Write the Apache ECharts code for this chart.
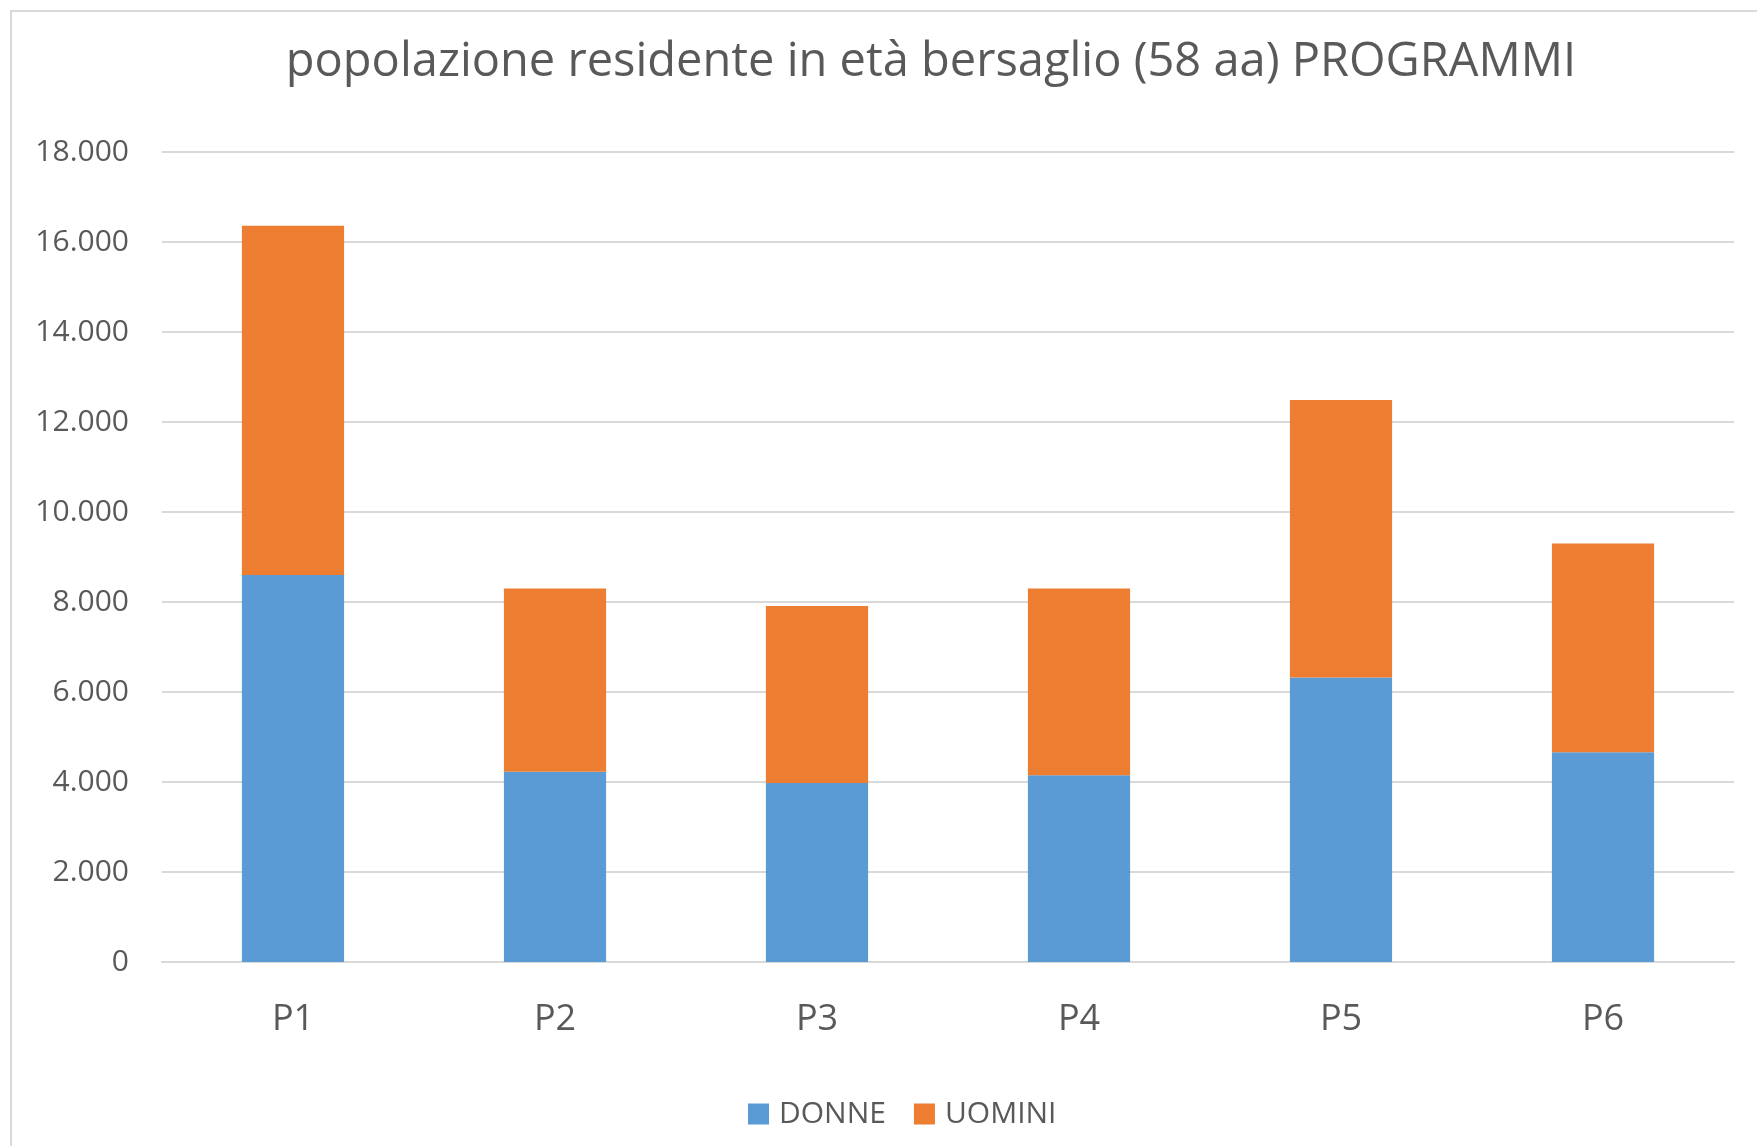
<!DOCTYPE html>
<html>
<head>
<meta charset="utf-8">
<script src="https://cdn.jsdelivr.net/npm/echarts@6/dist/echarts.min.js"></script>
<style>
  html, body { margin: 0; padding: 0; background: #fff; }
  #chart { width: 1757px; height: 1146px; }
</style>
</head>
<body>
<div id="chart"></div>
<script>
// dati
const categories = ['P1', 'P2', 'P3', 'P4', 'P5', 'P6'];
const donne = [8600, 4230, 3980, 4150, 6320, 4660];
const uomini = [7760, 4070, 3930, 4150, 6170, 4640];
const yTicks = { min: 0, max: 18000, interval: 2000 };

const textColor = '#595959';
const fontFamily = '"Open Sans", "DejaVu Sans", sans-serif';

const myChart = echarts.init(document.getElementById('chart'));

// separatore delle migliaia all'italiana
const fmt = (v) => String(v).replace(/\B(?=(\d{3})+(?!\d))/g, '.');

myChart.setOption({
  animation: false,
  backgroundColor: '#fff',
  textStyle: { fontFamily: fontFamily },
  graphic: [
    {
      type: 'rect',
      shape: { x: 11, y: 11, width: 1800, height: 1200 },
      style: { fill: 'none', stroke: '#d9d9d9', lineWidth: 2 },
      silent: true
    }
  ],
  title: {
    text: 'popolazione residente in età bersaglio (58 aa) PROGRAMMI',
    left: 926,
    top: 34,
    textAlign: 'center',
    textStyle: {
      color: textColor,
      fontSize: 47,
      fontWeight: 'normal',
      fontFamily: fontFamily
    }
  },
  legend: {
    data: ['DONNE', 'UOMINI'],
    left: 743,
    top: 1094,
    icon: 'rect',
    itemWidth: 21,
    itemHeight: 21,
    itemGap: 28,
    textStyle: { color: textColor, fontSize: 30, fontFamily: fontFamily, padding: [0, 0, 0, 5] }
  },
  grid: {
    left: 162,
    right: 23,
    top: 152,
    bottom: 184,
    containLabel: false
  },
  xAxis: {
    type: 'category',
    data: categories,
    axisLine: { lineStyle: { color: '#d9d9d9', width: 2 } },
    axisTick: { show: false },
    axisLabel: { color: textColor, fontSize: 36, margin: 40 }
  },
  yAxis: {
    type: 'value',
    min: yTicks.min,
    max: yTicks.max,
    interval: yTicks.interval,
    axisLine: { show: false },
    axisTick: { show: false },
    splitLine: { lineStyle: { color: '#d9d9d9', width: 2 } },
    axisLabel: { color: textColor, fontSize: 30, margin: 33, formatter: fmt }
  },
  series: [
    {
      name: 'DONNE',
      type: 'bar',
      stack: 'tot',
      data: donne,
      barWidth: '39%',
      itemStyle: { color: '#5B9BD5' }
    },
    {
      name: 'UOMINI',
      type: 'bar',
      stack: 'tot',
      data: uomini,
      barWidth: '39%',
      itemStyle: { color: '#ED7D31' }
    }
  ]
});

window.addEventListener('resize', () => {
  myChart.resize();
});
</script>
</body>
</html>
